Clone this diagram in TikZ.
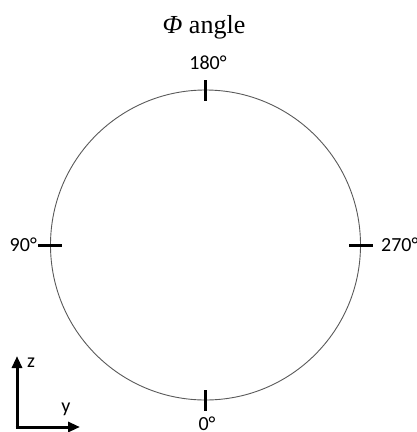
\documentclass[tikz,border=0pt]{standalone}
\usepackage{fontspec}
\setmainfont{Liberation Serif}
\newfontfamily\labelfont{Carlito}
\usetikzlibrary{arrows.meta}

\tikzset{
	tick/.style={line width=3pt},
	deglabel/.style={font=\labelfont\fontsize{20}{22}\selectfont, inner sep=0pt},
	axis/.style={line width=3pt, -{Triangle[length=12pt,width=10pt]}},
}

\begin{document}
\begin{tikzpicture}[x=1pt, y=-1pt]
	\useasboundingbox (0,0) rectangle (417,432);
	\draw[line width=0.9pt, black!65] (205.5,245) circle (155);
	\node[font=\fontsize{26}{28}\selectfont] (title) at (204,27) {\textit{Φ} angle};
	% ticks
	\draw[tick] (205.5,80) -- (205.5,101);
	\draw[tick] (205.5,390) -- (205.5,411);
	\draw[tick] (38,245) -- (62,245);
	\draw[tick] (349,245) -- (373,245);
	% degree labels
	\node[deglabel, anchor=south] (l180) at (208,70) {180°};
	\node[deglabel, anchor=east] (l90) at (37,245) {90°};
	\node[deglabel, anchor=west] (l270) at (381,245) {270°};
	\node[deglabel, anchor=north] (l0) at (207,417) {0°};
	% axes
	\coordinate (o) at (17,427);
	\coordinate (zend) at (17,356);
	\coordinate (yend) at (80,427);
	\draw[axis] ([yshift=1.5pt]o) -- (zend);
	\draw[axis] ([xshift=-1.5pt]o) -- (yend);
	\node[deglabel] (zlab) at (31,363) {z};
	\node[deglabel] (ylab) at (66,409) {y};
\end{tikzpicture}
\end{document}
